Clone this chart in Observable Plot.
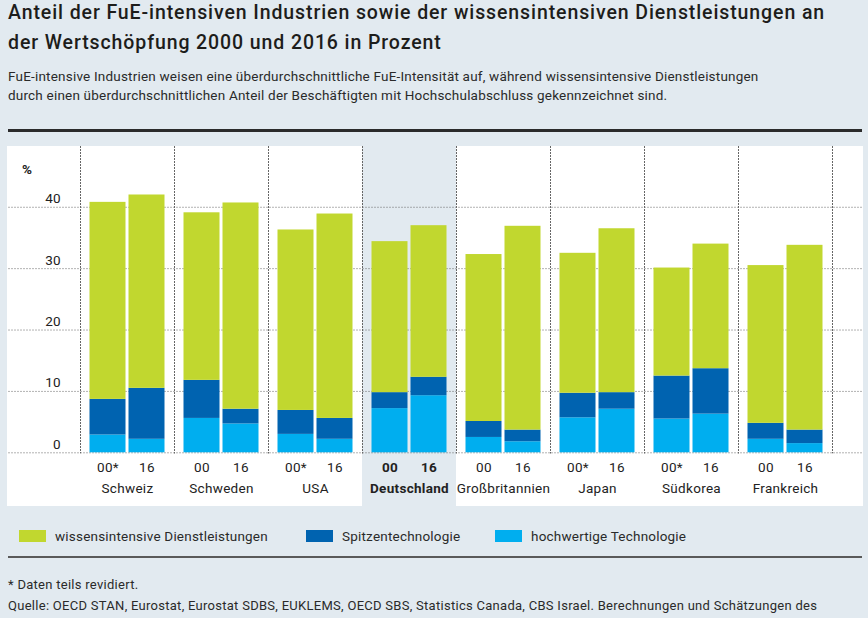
<!DOCTYPE html>
<html>
<head>
<meta charset="utf-8">
<script src="https://cdn.jsdelivr.net/npm/d3@7"></script>
<script src="https://cdn.jsdelivr.net/npm/@observablehq/plot@0.6"></script>
<style>
  html, body { margin: 0; padding: 0; }
  body { width: 868px; height: 618px; background: #e2eaf0; position: relative; overflow: hidden;
         font-family: Roboto, "Liberation Sans", sans-serif; color: #1d1d1b; }
  .abs { position: absolute; white-space: nowrap; }
  .title { font-size: 19.5px; line-height: 19.5px; font-weight: 500; left: 8px; letter-spacing: 0.9px; }
  .sub { font-size: 13.5px; line-height: 13.5px; left: 8px; color: #2a2a2a; letter-spacing: 0.2px; }
  .rule { position: absolute; left: 8px; width: 854px; }
  .legend { position: absolute; top: 527px; left: 0; height: 18px; font-size: 13.5px; color: #2a2a2a; letter-spacing: 0.2px; }
  .item { position: absolute; top: 0; height: 18px; display: flex; align-items: center; white-space: nowrap; }
  .sw { width: 27px; height: 12px; margin-right: 9px; flex: none; }
  .foot { font-size: 13px; line-height: 13px; left: 8px; color: #2a2a2a; letter-spacing: 0.28px; }
  #chart { position: absolute; left: 7px; top: 146px; }
</style>
</head>
<body>
<div class="abs title" style="top:3px">Anteil der FuE-intensiven Industrien sowie der wissensintensiven Dienstleistungen an</div>
<div class="abs title" style="top:33px">der Wertschöpfung 2000 und 2016 in Prozent</div>
<div class="abs sub" style="top:70px">FuE-intensive Industrien weisen eine überdurchschnittliche FuE-Intensität auf, während wissensintensive Dienstleistungen</div>
<div class="abs sub" style="top:89px">durch einen überdurchschnittlichen Anteil der Beschäftigten mit Hochschulabschluss gekennzeichnet sind.</div>
<div class="rule" style="top:129px;height:3px;background:#2b2b2b"></div>
<div id="chart"></div>
<div class="legend" id="legend"></div>
<div class="rule" style="top:556px;height:2px;background:#5a5a5a"></div>
<div class="abs foot" style="top:578px">* Daten teils revidiert.</div>
<div class="abs foot" style="top:599px">Quelle: OECD STAN, Eurostat, Eurostat SDBS, EUKLEMS, OECD SBS, Statistics Canada, CBS Israel. Berechnungen und Schätzungen des</div>
<script>
// ---- data ----
const countries = ["Schweiz", "Schweden", "USA", "Deutschland", "Großbritannien", "Japan", "Südkorea", "Frankreich"];
const years = ["00", "16"];
const yearLabels2000 = ["00*", "00", "00*", "00", "00", "00*", "00*", "00"];
const yearLabels2016 = ["16", "16", "16", "16", "16", "16", "16", "16"];
const series = ["hochwertige Technologie", "Spitzentechnologie", "wissensintensive Dienstleistungen"];
const legendOrder = ["wissensintensive Dienstleistungen", "Spitzentechnologie", "hochwertige Technologie"];
// values per country: [2000, 2016]
const hochwertige = [[2.9, 2.2], [5.6, 4.7], [3.0, 2.2], [7.2, 9.3], [2.5, 1.8], [5.7, 7.1], [5.5, 6.3], [2.2, 1.5]];
const spitzen     = [[5.8, 8.3], [6.2, 2.4], [3.9, 3.4], [2.6, 3.0], [2.6, 1.9], [4.0, 2.7], [7.0, 7.4], [2.6, 2.2]];
const wissens     = [[32.1, 31.5], [27.3, 33.6], [29.4, 33.3], [24.6, 24.7], [27.2, 33.2], [22.8, 26.7], [17.6, 20.3], [25.7, 30.1]];
const yTicks = [0, 10, 20, 30, 40];
const highlight = "Deutschland";
const colors = ["#00aeef", "#0063b0", "#c1d72f"];

// ---- build table ----
const seriesValues = [hochwertige, spitzen, wissens];
const rows = [];
countries.forEach((c, i) => years.forEach((yr, j) => series.forEach((s, k) => {
  rows.push({country: c, year: yr, series: s, value: seriesValues[k][i][j]});
})));
const yearRows = [];
countries.forEach((c, i) => {
  yearRows.push({country: c, year: "00", label: yearLabels2000[i]});
  yearRows.push({country: c, year: "16", label: yearLabels2016[i]});
});

const W = 856, H = 360, ML = 71.5, MR = 28.7, MB = 53.7;
const facetW = (W - ML - MR) / countries.length;
const first = countries[0];
const grid = {stroke: "#666", strokeDasharray: "1,2", strokeWidth: 1};

const chart = Plot.plot({
  width: W, height: H,
  marginLeft: ML, marginRight: MR, marginTop: 0, marginBottom: MB,
  style: {background: "white", fontFamily: "Roboto, 'Liberation Sans', sans-serif", fontSize: "13.5px", color: "#222", letterSpacing: "0.3px"},
  fx: {domain: countries, padding: 0, axis: null},
  x: {domain: years, paddingInner: 0.087, paddingOuter: 0.22, axis: null},
  y: {domain: [0, 49.9], axis: null},
  color: {domain: series, range: colors},
  marks: [
    Plot.rect([highlight], {fx: d => d, fill: "#e2eaf0", insetBottom: -MB}),
    // horizontal grid drawn once, across the full panel width
    Plot.ruleY(yTicks, {fx: () => first, y: d => d, ...grid, insetLeft: -ML, insetRight: -(facetW * (countries.length - 1) + MR)}),
    Plot.frame({anchor: "left", ...grid}),
    Plot.frame({anchor: "right", ...grid}),
    Plot.barY(rows, {fx: "country", x: "year", y: "value", fill: "series", order: series}),
    Plot.text(yTicks, {fx: () => first, y: d => d, text: d => String(d), frameAnchor: "left", textAnchor: "end", dx: -19.5, dy: -8.4, fill: "#222"}),
    Plot.text(["%"], {fx: () => first, text: d => d, frameAnchor: "top-left", textAnchor: "start", dx: -58.5, dy: 18, fontWeight: "bold", fill: "#222"}),
    Plot.text(yearRows.filter(d => d.country !== highlight), {fx: "country", x: "year", text: "label", frameAnchor: "bottom", dy: 19.5, fill: "#222"}),
    Plot.text(yearRows.filter(d => d.country === highlight), {fx: "country", x: "year", text: "label", frameAnchor: "bottom", dy: 19.5, fill: "#222", fontWeight: "bold"}),
    Plot.text(countries.filter(c => c !== highlight), {fx: d => d, text: d => d, frameAnchor: "bottom", dy: 40.5, fill: "#222"}),
    Plot.text([highlight], {fx: d => d, text: d => d, frameAnchor: "bottom", dy: 40.5, fill: "#222", fontWeight: "bold"})
  ]
});
document.getElementById("chart").appendChild(chart);

// ---- legend ----
const legendX = [19, 306, 495];
const leg = document.getElementById("legend");
legendOrder.forEach((s, i) => {
  const it = document.createElement("div");
  it.className = "item";
  it.style.left = legendX[i] + "px";
  const sw = document.createElement("div");
  sw.className = "sw";
  sw.style.background = colors[series.indexOf(s)];
  const t = document.createElement("span");
  t.textContent = s;
  it.appendChild(sw); it.appendChild(t);
  leg.appendChild(it);
});
</script>
</body>
</html>
